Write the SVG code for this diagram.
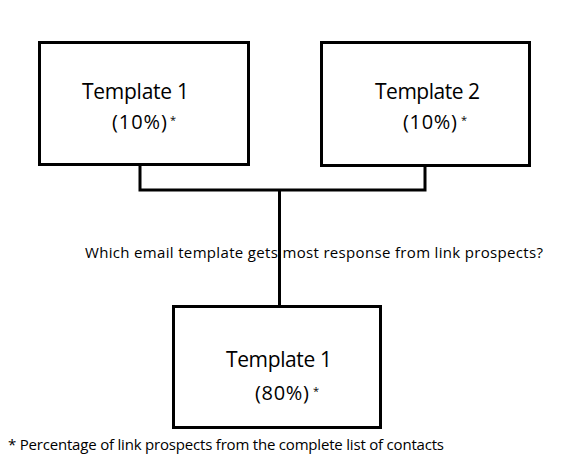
<svg xmlns="http://www.w3.org/2000/svg" width="580" height="466" viewBox="0 0 580 466">
<style>
.box{fill:#fff;stroke:#000;stroke-width:3}
.con{fill:none;stroke:#000;stroke-width:3}
text{font-family:"Open Sans","Noto Sans","Liberation Sans",sans-serif;fill:#000;font-weight:500}
.t{font-size:21px}
.p{font-size:20px}
.s{font-size:11px}
.m{font-size:15px}
</style>
<rect width="580" height="466" fill="#fff"/>
<g id="connectors">
<path class="con" d="M140,165 V190 H425 V166 M279.5,190 V306"/>
</g>
<g id="node-template1">
<rect class="box" x="39.5" y="42.5" width="209" height="122"/>
<text class="t" x="82" y="99" textLength="107">Template 1</text>
<text class="p" x="112" y="129" textLength="55">(10%)</text>
<text class="s" x="170" y="124">*</text>
</g>
<g id="node-template2">
<rect class="box" x="321.5" y="42.5" width="208" height="123"/>
<text class="t" x="375" y="99" textLength="105">Template 2</text>
<text class="p" x="403" y="129" textLength="54">(10%)</text>
<text class="s" x="461" y="124">*</text>
</g>
<g id="node-result">
<rect class="box" x="173.5" y="306.5" width="207" height="121"/>
<text class="t" x="226" y="367" textLength="106">Template 1</text>
<text class="p" x="255" y="400" textLength="54">(80%)</text>
<text class="s" x="313" y="395">*</text>
</g>
<text class="m" x="85" y="258" textLength="458">Which email template gets most response from link prospects?</text>
<text class="m" x="8" y="450" textLength="436">* Percentage of link prospects from the complete list of contacts</text>
</svg>
